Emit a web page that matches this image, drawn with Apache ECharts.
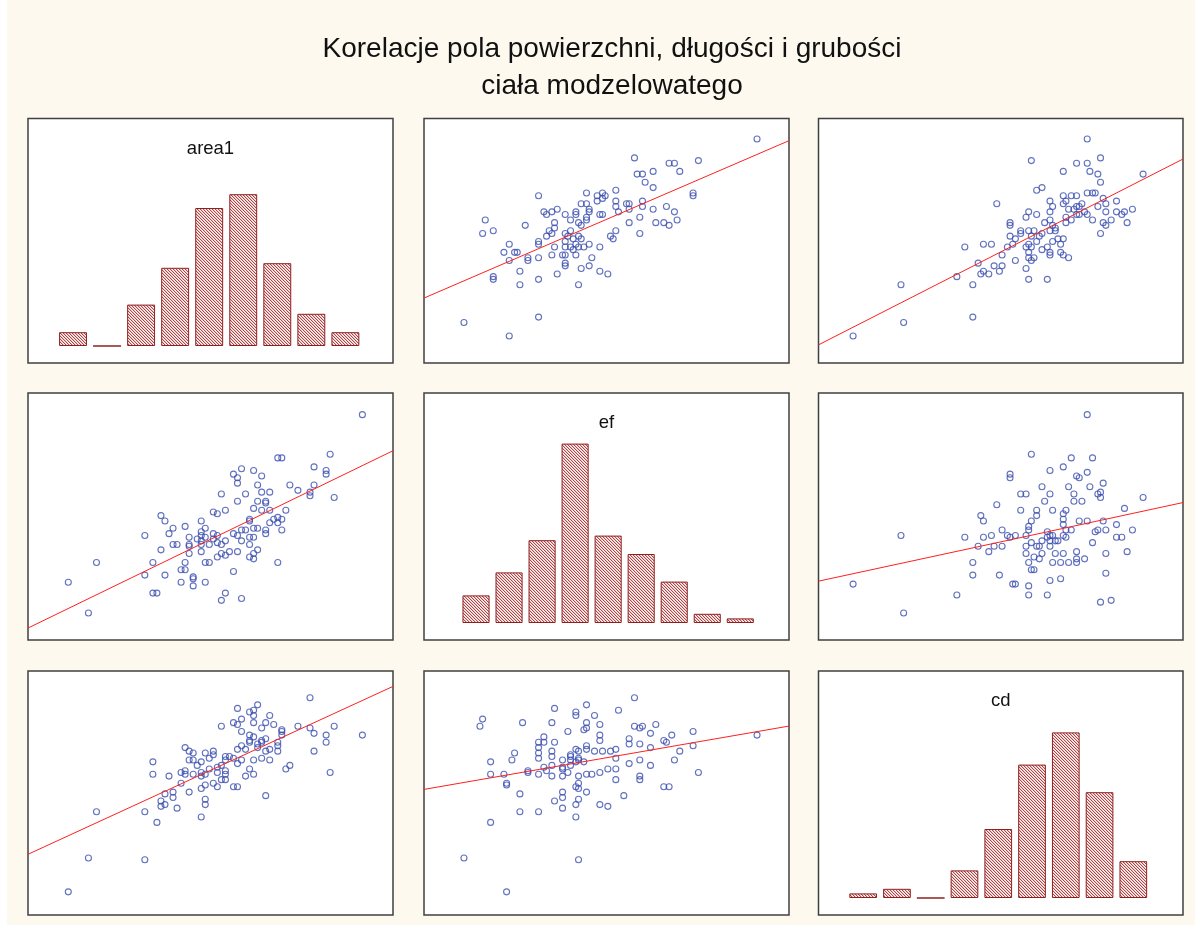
<!DOCTYPE html>
<html>
<head>
<meta charset="utf-8">
<script src="https://cdn.jsdelivr.net/npm/echarts@6/dist/echarts.min.js"></script>
<style>
  html, body { margin: 0; padding: 0; background: #ffffff; }
  #chart { width: 1200px; height: 927px; }
</style>
</head>
<body>
<div id="chart"></div>
<script>
// ---- text ----
const titleLines = ['Korelacje pola powierzchni, długości i grubości', 'ciała modzelowatego'];
const variables = ['area1', 'ef', 'cd'];

// ---- histogram counts (9 bins per variable) ----
const area1Counts = [3, 0, 9, 17, 30, 33, 18, 7, 3];
const efCounts = [6, 11, 18, 39, 19, 15, 9, 2, 1];
const cdCounts = [1, 2, 0, 6, 15, 29, 36, 23, 8];

// ---- value ranges of each variable (scale units) ----
const area1Range = [0, 90.6];
const efRange = [0, 137];
const cdRange = [0, 137];

// ---- paired observations ----
// [ef, area1]
const efArea1 = [
  [15,15],[32,10],[43,17],[22,48],[23,53],[26,49],[38,51],[43,62],[32,44],[30,41],
  [34,41],[35,41],[32,38],[39,39],[39,38],[36,34],[26,32],[26,31],[36,29],[43,31],
  [43,39],[43,45],[43,44],[46,47],[47,49],[48,48],[49,50],[49,52],[48,40],[49,43],
  [50,33],[45,56],[46,55],[48,56],[50,57],[53,55],[55,53],[57,56],[57,55],[58,52],
  [59,51],[61,53],[61,54],[62,56],[62,57],[61,59],[59,59],[61,63],[65,62],[67,63],
  [68,62],[65,60],[67,61],[66,55],[67,55],[53,48],[55,49],[54,47],[56,46],[58,47],
  [59,46],[53,45],[53,43],[55,43],[57,44],[58,43],[60,43],[62,44],[56,42],[52,40],
  [53,40],[57,40],[53,37],[53,36],[59,35],[62,36],[63,39],[66,43],[66,34],[58,29],
  [69,33],[125,83],[79,76],[92,74],[94,74],[103,75],[80,70],[82,70],[86,71],[96,71],
  [83,67],[86,65],[101,63],[101,62],[72,64],[72,60],[72,58],[73,56],[76,59],[77,59],
  [77,57],[82,60],[82,58],[86,57],[91,58],[94,56],[81,54],[77,52],[87,52],[90,52],
  [92,51],[95,53],[72,49],[70,47],[71,46],[81,48]
];
// [cd, area1]
const cdArea1 = [
  [67,59],[55,43],[62,44],[65,44],[60,37],[62,34],[61,33],[64,33],[66,36],[68,34],
  [52,32],[58,29],[31,29],[32,15],[58,17],[13,10],
  [101,83],[80,75],[106,76],[97,74],[101,74],[92,71],[102,71],[105,70],[106,67],[122,70],
  [82,64],[84,65],[87,60],[92,62],[95,62],[97,62],[101,63],[103,63],[104,63],[92,59],
  [93,60],[88,58],[87,56],[79,56],[78,54],[82,55],[94,57],[96,57],[97,58],[98,58],
  [99,59],[97,55],[98,55],[100,56],[101,55],[95,53],[93,52],[93,54],[103,53],[105,58],
  [107,61],[108,59],[108,56],[112,60],[112,56],[114,55],[115,56],[118,57],[110,53],[107,52],
  [108,51],[116,52],[106,48],[85,52],[87,53],[88,51],[89,50],[87,49],[89,49],[79,49],
  [81,49],[84,48],[83,47],[80,47],[82,45],[78,43],[79,44],[80,43],[79,41],[79,39],
  [80,38],[81,39],[84,42],[86,43],[88,45],[90,46],[92,46],[91,44],[87,41],[87,40],
  [91,41],[92,40],[94,39],[78,35],[79,31],[86,31],[74,38],[76,49],[76,48],[74,46],
  [73,44],[71,43],[72,52],[72,51],[72,47],[69,40],[69,36]
];
// [cd, ef]
const cdEf = [
  [67,75],[61,69],[62,66],[31,58],[55,57],[62,57],[65,58],[60,52],[66,52],[64,49],
  [58,43],[58,36],[68,36],[13,31],[52,25],[32,15],
  [101,125],[80,103],[95,101],[103,101],[92,96],[87,94],[101,93],[97,91],[98,90],[72,92],
  [72,90],[107,87],[102,85],[84,85],[94,85],[76,81],[78,81],[87,81],[96,81],[105,81],
  [106,82],[106,79],[85,77],[96,77],[99,77],[122,79],[115,73],[76,72],[82,72],[88,72],
  [93,72],[92,70],[92,67],[92,64],[82,69],[80,66],[79,63],[79,61],[98,66],[101,66],
  [107,66],[112,64],[118,61],[108,61],[105,61],[104,60],[95,61],[93,61],[86,60],[69,61],
  [71,58],[72,57],[74,58],[78,58],[69,52],[78,52],[80,54],[82,52],[83,52],[84,55],
  [86,57],[87,58],[87,55],[87,52],[88,58],[89,55],[90,55],[92,58],[93,57],[103,54],
  [112,57],[114,57],[116,49],[108,48],[78,48],[81,46],[83,45],[84,48],[79,43],[89,48],
  [92,48],[88,43],[91,43],[94,43],[97,49],[97,45],[97,43],[100,45],[80,39],[81,39],
  [108,37],[73,31],[74,31],[79,30],[79,25],[87,33],[91,34],[86,25],[106,21],[110,22]
];

// ---- layout ----
const colBounds = [[28, 393], [424, 789], [818.5, 1183]];
const rowBounds = [[118.5, 363], [393, 640], [671, 915]];
const histBox = [
  { left: 56, right: 362.4, base: 346 },
  { left: 459.5, right: 756.8, base: 623 },
  { left: 846.3, right: 1150.2, base: 898 }
];
const countMax = 50;
const pxPerCount = 4.6;

const ranges = { area1: area1Range, ef: efRange, cd: cdRange };
const counts = { area1: area1Counts, ef: efCounts, cd: cdCounts };
const swap = pts => pts.map(p => [p[1], p[0]]);
function pairsFor(xv, yv) {
  const table = {
    'ef|area1': efArea1, 'area1|ef': swap(efArea1),
    'cd|area1': cdArea1, 'area1|cd': swap(cdArea1),
    'cd|ef': cdEf, 'ef|cd': swap(cdEf)
  };
  return table[xv + '|' + yv];
}
// least-squares fit of y on x
function fitLine(pts, xr) {
  const n = pts.length;
  let sx = 0, sy = 0, sxx = 0, sxy = 0;
  pts.forEach(([x, y]) => { sx += x; sy += y; sxx += x * x; sxy += x * y; });
  const b = (n * sxy - sx * sy) / (n * sxx - sx * sx);
  const a = (sy - b * sx) / n;
  return [[xr[0], a + b * xr[0]], [xr[1], a + b * xr[1]]];
}

// hatched fill for the histogram bars (fine diagonal stripes)
function hatch() {
  const c = document.createElement('canvas');
  c.width = 3; c.height = 3;
  const g = c.getContext('2d');
  const shades = ['#b04646', '#ecc6c6', '#fdf6f6'];
  for (let i = 0; i < 3; i++) {
    for (let k = 0; k < 3; k++) {
      g.fillStyle = shades[k];
      g.fillRect((i + k) % 3, i, 1, 1);
    }
  }
  return { image: c, repeat: 'repeat' };
}
const hatchFill = hatch();

const grids = [], xAxes = [], yAxes = [], series = [];
const graphics = [
  { type: 'rect', shape: { x: 7, y: 0, width: 1188, height: 925 }, style: { fill: '#fdf9ef' }, z: -10 }
];

for (let r = 0; r < 3; r++) {
  for (let c = 0; c < 3; c++) {
    const [x0, x1] = colBounds[c];
    const [y0, y1] = rowBounds[r];
    graphics.push({
      type: 'rect', z: -5,
      shape: { x: x0, y: y0, width: x1 - x0, height: y1 - y0 },
      style: { fill: '#ffffff', stroke: '#404040', lineWidth: 1.5 }
    });
    const gi = grids.length;
    if (r === c) {
      const v = variables[r];
      const h = histBox[r];
      grids.push({ left: h.left, width: h.right - h.left, top: h.base - countMax * pxPerCount, height: countMax * pxPerCount });
      xAxes.push({ type: 'category', gridIndex: gi, show: false, data: counts[v].map((_, i) => i + 1) });
      yAxes.push({ type: 'value', gridIndex: gi, show: false, min: 0, max: countMax });
      series.push({
        type: 'bar', xAxisIndex: gi, yAxisIndex: gi, data: counts[v],
        barCategoryGap: '18%', silent: true,
        itemStyle: { color: hatchFill, borderColor: '#8e2020', borderWidth: 1 }
      });
      graphics.push({
        type: 'text', z: 5,
        style: { text: v, x: (x0 + x1) / 2, y: y0 + 30, textAlign: 'center', textVerticalAlign: 'middle',
                 font: '18.5px "Liberation Sans", Arial, sans-serif', fill: '#111111' }
      });
    } else {
      const xv = variables[c], yv = variables[r];
      const pts = pairsFor(xv, yv);
      grids.push({ left: x0, width: x1 - x0, top: y0, height: y1 - y0 });
      xAxes.push({ type: 'value', gridIndex: gi, show: false, min: ranges[xv][0], max: ranges[xv][1] });
      yAxes.push({ type: 'value', gridIndex: gi, show: false, min: ranges[yv][0], max: ranges[yv][1] });
      series.push({
        type: 'scatter', xAxisIndex: gi, yAxisIndex: gi, data: pts, silent: true,
        symbol: 'circle', symbolSize: 6,
        itemStyle: { color: 'rgba(0,0,0,0)', borderColor: '#3a4eae', borderWidth: 1.1 }
      });
      series.push({
        type: 'line', xAxisIndex: gi, yAxisIndex: gi, data: fitLine(pts, ranges[xv]),
        showSymbol: false, silent: true, clip: true,
        lineStyle: { color: '#ff1f1f', width: 1 }
      });
    }
  }
}

titleLines.forEach((t, i) => {
  graphics.push({
    type: 'text', z: 5,
    style: { text: t, x: 612, y: 49 + i * 37, textAlign: 'center', textVerticalAlign: 'middle',
             font: '28px "Liberation Sans", Arial, sans-serif', fill: '#111111' }
  });
});

const chart = echarts.init(document.getElementById('chart'), null, { renderer: 'canvas' });
chart.setOption({
  backgroundColor: '#ffffff',
  animation: false,
  grid: grids,
  xAxis: xAxes,
  yAxis: yAxes,
  series: series,
  graphic: graphics
});
</script>
</body>
</html>
